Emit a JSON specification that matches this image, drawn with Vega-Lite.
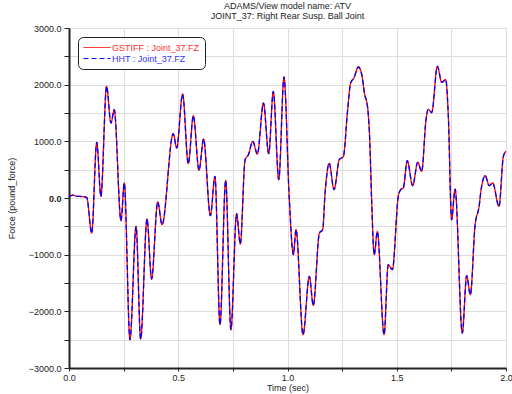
{
  "$schema": "https://vega.github.io/schema/vega-lite/v6.json",
  "width": 437,
  "height": 340,
  "autosize": "none",
  "padding": {"left": 69, "top": 28, "right": 6, "bottom": 26},
  "background": "white",
  "config": {"font": "Liberation Sans", "view": {"stroke": null}},
  "title": {
    "text": ["ADAMS/View model name: ATV", "JOINT_37: Right Rear Susp. Ball Joint"],
    "fontSize": 9, "fontWeight": "normal", "color": "#222", "font": "Liberation Sans",
    "anchor": "middle", "offset": 3, "lineHeight": 10
  },
  "datasets": {
    "force": [
      {"t": 0.000, "F": 17}, {"t": 0.017, "F": 52}, {"t": 0.035, "F": 30}, {"t": 0.060, "F": 25},
      {"t": 0.081, "F": 10}, {"t": 0.104, "F": -619}, {"t": 0.127, "F": 982}, {"t": 0.146, "F": 30},
      {"t": 0.172, "F": 1970}, {"t": 0.192, "F": 1323}, {"t": 0.207, "F": 1558}, {"t": 0.238, "F": -400},
      {"t": 0.253, "F": 265}, {"t": 0.279, "F": -2500}, {"t": 0.307, "F": -500}, {"t": 0.328, "F": -2488},
      {"t": 0.357, "F": -370}, {"t": 0.378, "F": -1430}, {"t": 0.406, "F": -70}, {"t": 0.426, "F": -470},
      {"t": 0.477, "F": 1135}, {"t": 0.493, "F": 882}, {"t": 0.520, "F": 1835}, {"t": 0.546, "F": 605},
      {"t": 0.569, "F": 1452}, {"t": 0.595, "F": 488}, {"t": 0.616, "F": 1040}, {"t": 0.647, "F": -312},
      {"t": 0.668, "F": 382}, {"t": 0.691, "F": -2236}, {"t": 0.717, "F": 310}, {"t": 0.741, "F": -2324},
      {"t": 0.767, "F": -277}, {"t": 0.784, "F": -812}, {"t": 0.806, "F": 676}, {"t": 0.821, "F": 764},
      {"t": 0.841, "F": 999}, {"t": 0.862, "F": 776}, {"t": 0.890, "F": 1676}, {"t": 0.914, "F": 782},
      {"t": 0.935, "F": 1882}, {"t": 0.960, "F": 323}, {"t": 0.984, "F": 2135}, {"t": 1.008, "F": 0},
      {"t": 1.027, "F": -1000}, {"t": 1.039, "F": -559}, {"t": 1.071, "F": -2412}, {"t": 1.100, "F": -1383},
      {"t": 1.118, "F": -1895}, {"t": 1.146, "F": -618}, {"t": 1.161, "F": -559}, {"t": 1.172, "F": 88},
      {"t": 1.191, "F": 612}, {"t": 1.213, "F": 147}, {"t": 1.237, "F": 676}, {"t": 1.256, "F": 735},
      {"t": 1.274, "F": 1500}, {"t": 1.289, "F": 2029}, {"t": 1.304, "F": 2118}, {"t": 1.324, "F": 2312},
      {"t": 1.340, "F": 2176}, {"t": 1.352, "F": 1853}, {"t": 1.367, "F": 1588}, {"t": 1.377, "F": 965},
      {"t": 1.385, "F": -30}, {"t": 1.397, "F": -1000}, {"t": 1.411, "F": -594}, {"t": 1.442, "F": -2412},
      {"t": 1.461, "F": -1177}, {"t": 1.480, "F": -1265}, {"t": 1.507, "F": 30}, {"t": 1.518, "F": 147},
      {"t": 1.530, "F": 176}, {"t": 1.548, "F": 658}, {"t": 1.573, "F": 217}, {"t": 1.596, "F": 629},
      {"t": 1.614, "F": 470}, {"t": 1.634, "F": 1382}, {"t": 1.644, "F": 1565}, {"t": 1.660, "F": 1506},
      {"t": 1.686, "F": 2323}, {"t": 1.706, "F": 2041}, {"t": 1.724, "F": 2088}, {"t": 1.736, "F": 1453},
      {"t": 1.751, "F": -382}, {"t": 1.767, "F": 158}, {"t": 1.800, "F": -2382}, {"t": 1.820, "F": -1371},
      {"t": 1.837, "F": -1706}, {"t": 1.858, "F": -500}, {"t": 1.878, "F": -118}, {"t": 1.884, "F": 88},
      {"t": 1.905, "F": 394}, {"t": 1.923, "F": 217}, {"t": 1.939, "F": 265}, {"t": 1.968, "F": -147},
      {"t": 1.988, "F": 735}, {"t": 2.000, "F": 824}
    ]
  },
  "encoding": {
    "x": {
      "field": "t", "type": "quantitative",
      "scale": {"domain": [0, 2], "nice": false, "zero": false},
      "axis": {
        "title": "Time (sec)", "titleFontSize": 9, "titleFontWeight": "normal", "titleColor": "#222", "titlePadding": 1,
        "values": [0, 0.25, 0.5, 0.75, 1, 1.25, 1.5, 1.75, 2],
        "labelExpr": "datum.value % 0.5 == 0 ? format(datum.value, '.1f') : ''",
        "labelFontSize": 9, "labelColor": "#222", "labelPadding": 2, "labelFlush": false,
        "grid": true, "gridColor": "#dddddd", "gridWidth": 1,
        "domainColor": "#222", "domainWidth": 2, "tickColor": "#222", "tickSize": 3
      }
    },
    "y": {
      "field": "F", "type": "quantitative",
      "scale": {"domain": [-3000, 3000], "nice": false},
      "axis": {
        "title": "Force (pound_force)", "titleFontSize": 9, "titleFontWeight": "normal", "titleColor": "#222", "titlePadding": 12,
        "values": [-3000, -2500, -2000, -1500, -1000, -500, 0, 500, 1000, 1500, 2000, 2500, 3000],
        "labelExpr": "datum.value % 1000 == 0 ? format(datum.value, '.1f') : ''",
        "labelFontSize": 9, "labelColor": "#222", "labelPadding": 3,
        "labelFontWeight": {"condition": {"test": "datum.value == 0", "value": "bold"}, "value": "normal"},
        "grid": true, "gridColor": "#dddddd", "gridWidth": 1,
        "domainColor": "#222", "domainWidth": 2, "tickColor": "#222", "tickSize": 5
      }
    }
  },
  "layer": [
    {
      "data": {"name": "force"},
      "mark": {"type": "line", "interpolate": "monotone", "strokeWidth": 1.3},
      "encoding": {
        "color": {
          "datum": "GSTIFF : Joint_37.FZ", "type": "nominal",
          "scale": {"domain": ["GSTIFF : Joint_37.FZ", "HHT : Joint_37.FZ"], "range": ["#ff0000", "#0000ff"]},
          "legend": {
            "title": null, "orient": "top-left", "offset": 9,
            "strokeColor": "#222", "fillColor": "white", "cornerRadius": 5, "padding": 5,
            "symbolType": "M-1,0H4.4", "symbolSize": 100, "symbolStrokeWidth": 1,
            "labelFontSize": 9, "labelOffset": 18, "rowPadding": 0,
            "labelColor": {"expr": "datum.label == 'HHT : Joint_37.FZ' ? '#3333ff' : '#ff3333'"}
          }
        },
        "strokeDash": {
          "datum": "GSTIFF : Joint_37.FZ", "type": "nominal",
          "scale": {"domain": ["GSTIFF : Joint_37.FZ", "HHT : Joint_37.FZ"], "range": [[1, 0], [5, 3]]},
          "legend": null
        }
      }
    },
    {
      "data": {"name": "force"},
      "mark": {"type": "line", "interpolate": "monotone", "strokeWidth": 1.3},
      "encoding": {
        "color": {"datum": "HHT : Joint_37.FZ", "type": "nominal"},
        "strokeDash": {"datum": "HHT : Joint_37.FZ", "type": "nominal"}
      }
    },
    {
      "data": {"values": [{"F": 0}]},
      "mark": {"type": "rule", "color": "#222", "strokeWidth": 1.5},
      "encoding": {"y": {"field": "F", "type": "quantitative"}}
    }
  ]
}
